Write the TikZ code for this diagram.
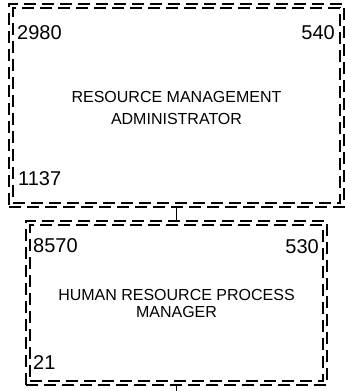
\documentclass[tikz,border=0pt]{standalone}
\usepackage{fontspec}
\setmainfont{Liberation Sans}
\begin{document}
\begin{tikzpicture}[x=1pt,y=-1pt,
  box/.style={draw, line width=1.8pt, dash pattern=on 12pt off 6pt, inner sep=0pt},
  conn/.style={draw, line width=1.8pt},
  num/.style={font=\fontsize{20}{24}\selectfont, inner sep=0pt},
  lblA/.style={font=\fontsize{16}{22}\selectfont, align=center, inner sep=0pt},
  lblB/.style={font=\fontsize{16}{17.5}\selectfont, align=center, inner sep=0pt}]
\useasboundingbox (0,0) rectangle (345,391);
% box 1
\node[box, minimum width=335pt, minimum height=203pt] (b1o) at (176.5,105.5) {};
\node[box, minimum width=327pt, minimum height=195pt] (b1i) at (176.5,105.5) {};
% box 2
\node[box, minimum width=301pt, minimum height=164pt] (b2o) at (176.5,303) {};
\node[box, minimum width=293pt, minimum height=156pt] (b2i) at (176.5,303) {};
\coordinate (end) at (176.5,391);
\draw[conn] (b1o.south) -- (b2o.north);
\draw[conn] (b2o.south) -- (end);
% labels box 1
\node[lblA] (t1) at (176.5,107.5) {RESOURCE MANAGEMENT\\ADMINISTRATOR};
\node[num, anchor=base west] (n2980) at (17,39) {2980};
\node[num, anchor=base east] (n540) at (335,39) {540};
\node[num, anchor=base west] (n1137) at (18,185) {1137};
% labels box 2
\node[lblB] (t2) at (176.5,303.5) {HUMAN RESOURCE PROCESS\\MANAGER};
\node[num, anchor=base west] (n8570) at (33,252) {8570};
\node[num, anchor=base east] (n530) at (319,253) {530};
\node[num, anchor=base west] (n21) at (33,369) {21};
\end{tikzpicture}
\end{document}
